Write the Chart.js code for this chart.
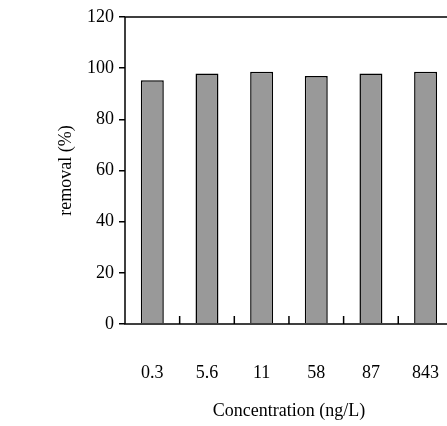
<!DOCTYPE html>
<html>
<head>
<script src="https://cdn.jsdelivr.net/npm/chart.js@4"></script>
<style>
  body { margin: 0; overflow: hidden; background: #fff; }
  #wrap { width: 470px; height: 426px; }
</style>
</head>
<body>
<div id="wrap"><canvas id="c"></canvas></div>
<script>
const categories = ['0.3', '5.6', '11', '58', '87', '843'];
const removal = [95.3, 97.9, 98.6, 96.9, 97.9, 98.6];
const yTicks = [0, 20, 40, 60, 80, 100, 120];

const font = { family: 'Liberation Serif', size: 18 };

// frame + inward category ticks
const framePlugin = {
  id: 'frame',
  afterDraw(chart) {
    const { ctx, chartArea: a, scales } = chart;
    ctx.save();
    ctx.strokeStyle = '#000';
    ctx.lineWidth = 1.5;
    ctx.strokeRect(a.left, a.top, a.right - a.left, a.bottom - a.top);
    const x = scales.x;
    for (let i = 1; i < categories.length; i++) {
      const px = (x.getPixelForValue(i - 1) + x.getPixelForValue(i)) / 2;
      ctx.beginPath();
      ctx.moveTo(px, a.bottom);
      ctx.lineTo(px, a.bottom - 8);
      ctx.stroke();
    }
    ctx.restore();
  }
};

new Chart(document.getElementById('c'), {
  type: 'bar',
  data: {
    labels: categories,
    datasets: [{
      data: removal,
      backgroundColor: '#999999',
      borderColor: '#000',
      borderWidth: 1.5,
      categoryPercentage: 0.42,
      barPercentage: 1
    }]
  },
  options: {
    responsive: true,
    maintainAspectRatio: false,
    animation: false,
    layout: { padding: { left: 55, top: 17, right: 11, bottom: 0 } },
    plugins: { legend: { display: false }, tooltip: { enabled: false } },
    scales: {
      x: {
        afterFit(s) { s.height = 102; },
        grid: { display: false },
        border: { display: false },
        ticks: { color: '#000', font, padding: 30, maxRotation: 0 },
        title: { display: true, text: 'Concentration (ng/L)', color: '#000', font, padding: { top: 10, bottom: 4 } }
      },
      y: {
        min: 0, max: 120,
        afterFit(s) { s.width = 70; },
        afterBuildTicks(s) { s.ticks = yTicks.map(v => ({ value: v })); },
        grid: { drawOnChartArea: false, tickLength: 6, color: '#000', lineWidth: 1.5 },
        border: { display: false },
        ticks: { color: '#000', font, padding: 5 },
        title: { display: true, text: 'removal (%)', color: '#000', font, padding: 0 }
      }
    }
  },
  plugins: [framePlugin]
});
</script>
</body>
</html>
